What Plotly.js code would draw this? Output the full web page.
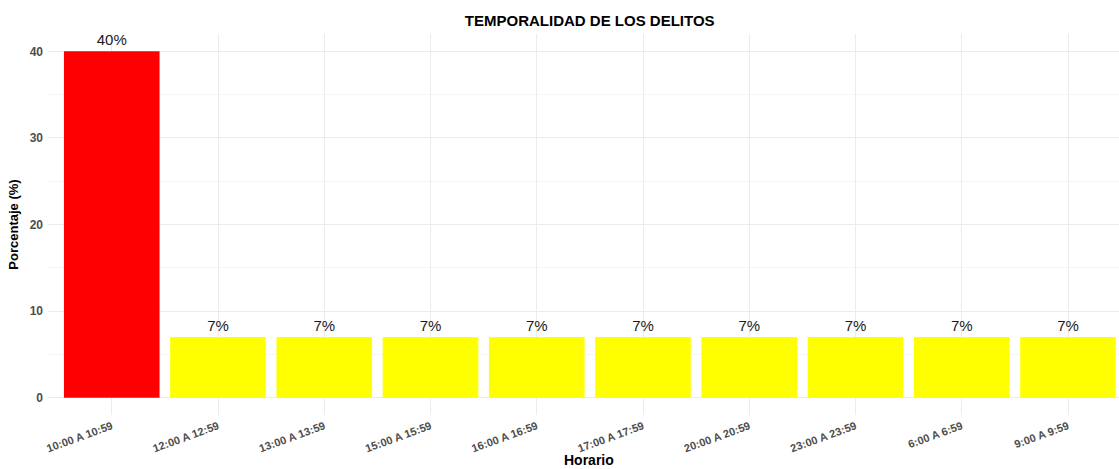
<!DOCTYPE html>
<html>
<head>
<meta charset="utf-8">
<script src="https://cdn.plot.ly/plotly-3.0.1.min.js"></script>
<style>html,body{margin:0;padding:0;background:#fff;}#chart{width:1119px;height:469px;}</style>
</head>
<body>
<div id="chart"></div>
<script>
const categories = ["10:00 A 10:59","12:00 A 12:59","13:00 A 13:59","15:00 A 15:59","16:00 A 16:59","17:00 A 17:59","20:00 A 20:59","23:00 A 23:59","6:00 A 6:59","9:00 A 9:59"];
const values = [40,7,7,7,7,7,7,7,7,7];
const labels = ["40%","7%","7%","7%","7%","7%","7%","7%","7%","7%"];
const barColors = ["#FF0000","#FFFF00","#FFFF00","#FFFF00","#FFFF00","#FFFF00","#FFFF00","#FFFF00","#FFFF00","#FFFF00"];

const trace = {
  type: 'bar',
  x: categories,
  y: values,
  text: labels,
  textposition: 'outside',
  cliponaxis: false,
  textfont: {family: 'Liberation Sans, Arial, sans-serif', size: 15, color: '#1a1a1a'},
  marker: {color: barColors, line: {width: 0}},
  width: 0.9,
  hoverinfo: 'x+y'
};

const layout = {
  width: 1119, height: 469,
  margin: {l: 48, r: 0, t: 34, b: 54},
  paper_bgcolor: '#ffffff', plot_bgcolor: '#ffffff',
  showlegend: false,
  title: {text: '<b>TEMPORALIDAD DE LOS DELITOS</b>', x: 0.527, xanchor: 'center', y: 0.955, yanchor: 'middle',
          font: {family: 'Liberation Sans, Arial, sans-serif', size: 15, color: '#000'}},
  xaxis: {
    type: 'category',
    range: [-0.6, 9.48],
    showgrid: true, gridcolor: '#ebebeb', gridwidth: 1,
    zeroline: false, showline: false,
    ticks: '', tickangle: -20, ticklabelstandoff: 2,
    tickfont: {family: 'Liberation Sans, Arial, sans-serif', size: 11, color: '#4d4d4d', weight: 'bold'}
  },
  yaxis: {
    range: [-2, 42],
    tickvals: [0,10,20,30,40],
    showgrid: true, gridcolor: '#ebebeb', gridwidth: 1,
    minor: {tickvals: [5,15,25,35], showgrid: true, gridcolor: '#f5f5f5', gridwidth: 1, ticks: ''},
    zeroline: false, showline: false,
    ticks: '', ticklabelstandoff: 4,
    tickfont: {family: 'Liberation Sans, Arial, sans-serif', size: 12, color: '#4d4d4d', weight: 'bold'},
    title: {text: '<b>Porcentaje (%)</b>', standoff: 8, font: {family: 'Liberation Sans, Arial, sans-serif', size: 13, color: '#000'}}
  },
  annotations: [{
    text: '<b>Horario</b>', xref: 'paper', yref: 'paper', x: 0.505, y: -0.119,
    xanchor: 'center', yanchor: 'middle', showarrow: false,
    font: {family: 'Liberation Sans, Arial, sans-serif', size: 14, color: '#000'}
  }],
  bargap: 0.1
};

Plotly.newPlot('chart', [trace], layout, {displayModeBar: false, staticPlot: true});
</script>
</body>
</html>
